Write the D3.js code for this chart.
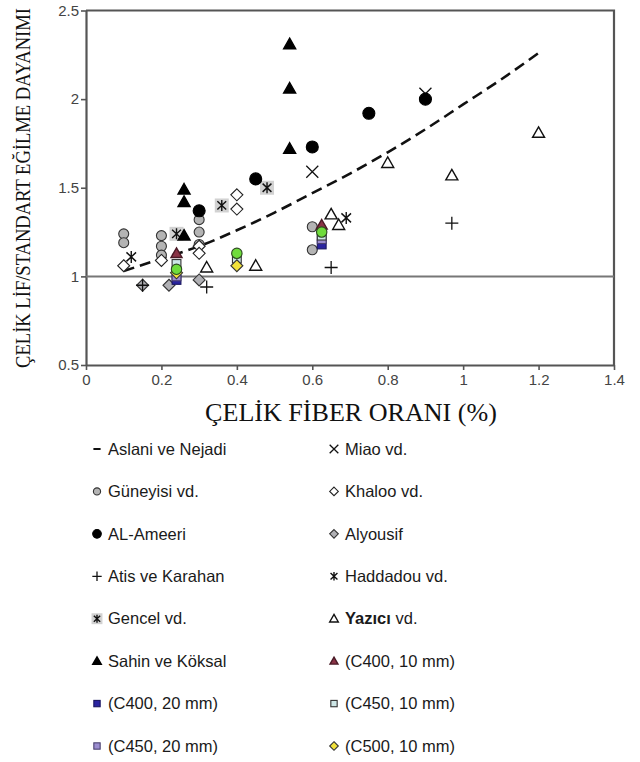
<!DOCTYPE html>
<html>
<head>
<meta charset="utf-8">
<script src="https://cdn.jsdelivr.net/npm/d3@7"></script>
<style>
  html, body { margin: 0; padding: 0; background: #fff; }
  svg { display: block; }
</style>
</head>
<body>
<svg id="chart" width="640" height="762"></svg>
<script>
// Axis ticks
const xTicks = [0, 0.2, 0.4, 0.6, 0.8, 1, 1.2, 1.4];
const yTicks = [0.5, 1, 1.5, 2, 2.5];

// Trend curve (Aslani ve Nejadi)
const aslaniX = [0.1, 0.2, 0.3, 0.4, 0.5, 0.6, 0.7, 0.8, 0.9, 1.0, 1.1, 1.2];
const aslaniY = [1.03, 1.10, 1.17, 1.26, 1.36, 1.47, 1.58, 1.70, 1.83, 1.97, 2.11, 2.26];

// Test results [fiber ratio %, relative flexural strength]
const guneyisi = [[0.1, 1.24], [0.1, 1.19], [0.2, 1.23], [0.2, 1.17], [0.2, 1.12], [0.3, 1.32], [0.3, 1.25], [0.3, 1.18], [0.6, 1.28], [0.6, 1.15]];
const alAmeeri = [[0.3, 1.37], [0.45, 1.55], [0.6, 1.73], [0.75, 1.92], [0.9, 2.0]];
const atis = [[0.15, 0.95], [0.32, 0.94], [0.65, 1.05], [0.97, 1.3]];
const gencel = [[0.24, 1.24], [0.36, 1.4], [0.48, 1.5]];
const sahin = [[0.26, 1.49], [0.26, 1.42], [0.26, 1.23], [0.54, 2.31], [0.54, 2.06], [0.54, 1.72]];
const miao = [[0.6, 1.59], [0.9, 2.03]];
const khaloo = [[0.1, 1.06], [0.2, 1.09], [0.3, 1.17], [0.3, 1.13], [0.4, 1.46], [0.4, 1.38]];
const alyousif = [[0.15, 0.95], [0.22, 0.95], [0.3, 0.98]];
const haddadou = [[0.12, 1.11], [0.69, 1.33]];
const yazici = [[0.32, 1.05], [0.45, 1.06], [0.65, 1.35], [0.67, 1.29], [0.8, 1.64], [0.97, 1.57], [1.2, 1.81]];
const c400_10 = [[0.24, 1.13], [0.625, 1.29]];
const c400_20 = [[0.24, 0.98], [0.625, 1.18]];
const c450_10 = [[0.24, 1.07], [0.4, 1.10], [0.625, 1.23]];
const c450_20 = [[0.24, 1.0], [0.625, 1.21]];
const c500_10 = [[0.24, 1.02], [0.4, 1.06]];
const greenMix = [[0.24, 1.04], [0.4, 1.13], [0.625, 1.25]];

const legendLeft = ["Aslani ve Nejadi", "Güneyisi vd.", "AL-Ameeri", "Atis ve Karahan", "Gencel vd.", "Sahin ve Köksal", "(C400, 20 mm)", "(C450, 20 mm)"];
const legendRight = ["Miao vd.", "Khaloo vd.", "Alyousif", "Haddadou vd.", "Yazıcı vd.", "(C400, 10 mm)", "(C450, 10 mm)", "(C500, 10 mm)"];

// Marker styles
const styles = {
  aslani:   { kind: "dash" },
  guneyisi: { kind: "circle", fill: "#b4b4b4", stroke: "#333", r: 5 },
  alAmeeri: { kind: "circle", fill: "#000", stroke: "#000", r: 6 },
  atis:     { kind: "plus", stroke: "#111", s: 6.5 },
  gencel:   { kind: "gencel", stroke: "#111", s: 5.5 },
  sahin:    { kind: "triangle", fill: "#000", stroke: "#000", s: 6 },
  miao:     { kind: "times", stroke: "#111", s: 6 },
  khaloo:   { kind: "diamond", fill: "#fff", stroke: "#222", s: 4.8 },
  alyousif: { kind: "diamond", fill: "#b0b0b4", stroke: "#333", s: 4.8 },
  haddadou: { kind: "asterisk", stroke: "#111", s: 6 },
  yazici:   { kind: "triangle", fill: "#fff", stroke: "#111", s: 6 },
  c400_10:  { kind: "triangle", fill: "#8a3346", stroke: "#4a1a26", s: 5.5 },
  c400_20:  { kind: "square", fill: "#2a24a0", stroke: "#1a1660", s: 4.4 },
  c450_10:  { kind: "square", fill: "#cde6e6", stroke: "#333", s: 4.4 },
  c450_20:  { kind: "square", fill: "#9c8ed0", stroke: "#4a4070", s: 4.4 },
  c500_10:  { kind: "diamond", fill: "#f2e23a", stroke: "#333", s: 4.8 },
  greenMix: { kind: "circle", fill: "#6fdc3c", stroke: "#2c4a20", r: 5.2 }
};

const svg = d3.select("#chart");
const m = { left: 86, right: 614, top: 10.5, bottom: 365 };

const x = d3.scaleLinear().domain([0, 1.4]).range([m.left, m.right]);
const y = d3.scaleLinear().domain([0.5, 2.5]).range([m.bottom, m.top]);

const axisColor = "#555";
const font = "'Liberation Sans', Arial, sans-serif";
const serif = "'Liberation Serif', 'Times New Roman', serif";

// Axes
const gx = svg.append("g").attr("transform", `translate(0,${m.bottom})`)
  .call(d3.axisBottom(x).tickValues(xTicks).tickSize(5).tickSizeOuter(0).tickFormat(d3.format("")));
const gy = svg.append("g").attr("transform", `translate(${m.left},0)`)
  .call(d3.axisLeft(y).tickValues(yTicks).tickSize(5).tickSizeOuter(0).tickFormat(d3.format("")));
[gx, gy].forEach(g => {
  g.select(".domain").attr("stroke", axisColor).attr("stroke-width", 2.2);
  g.selectAll(".tick line").attr("stroke", axisColor).attr("stroke-width", 1.6);
  g.selectAll(".tick text").attr("fill", "#444").style("font-family", font).style("font-size", "15px");
});
gx.selectAll(".tick text").attr("dy", "0.85em").attr("y", 7);
gy.selectAll(".tick text").attr("x", -7);

// Frame (top and right)
svg.append("path")
  .attr("d", `M${m.left},${m.top}H${m.right}V${m.bottom}`)
  .attr("fill", "none").attr("stroke", axisColor).attr("stroke-width", 2.2);

// Reference line at 1
svg.append("line")
  .attr("x1", x(0)).attr("x2", x(1.4)).attr("y1", y(1)).attr("y2", y(1))
  .attr("stroke", "#777").attr("stroke-width", 2);

// Axis titles (condensed to a target length with a horizontal scale)
function fitTitle(txt, size, target, place) {
  const t = svg.append("text").attr("text-anchor", "middle")
    .style("font-family", serif).style("font-size", size + "px").attr("fill", "#111")
    .text(txt);
  const len = t.node().getComputedTextLength();
  t.attr("transform", `${place} scale(${target / len},1)`);
}
fitTitle("ÇELİK FİBER ORANI (%)", 25, 292, "translate(351,421)");
fitTitle("ÇELİK LİF/STANDART EĞİLME DAYANIMI", 21, 360, "translate(30,188) rotate(-90)");

// Trend curve
const line = d3.line().x(d => x(d[0])).y(d => y(d[1])).curve(d3.curveMonotoneX);
svg.append("path")
  .datum(aslaniX.map((v, i) => [v, aslaniY[i]]))
  .attr("d", line)
  .attr("fill", "none").attr("stroke", "#111").attr("stroke-width", 2.6)
  .attr("stroke-dasharray", "11,6");

// Marker painter
function drawMarker(g, st, k) {
  k = k || 1;
  switch (st.kind) {
    case "circle":
      g.append("circle").attr("r", st.r * k).attr("fill", st.fill).attr("stroke", st.stroke).attr("stroke-width", 1.1);
      break;
    case "square": {
      const s = st.s * k;
      g.append("rect").attr("x", -s).attr("y", -s).attr("width", 2 * s).attr("height", 2 * s)
        .attr("fill", st.fill).attr("stroke", st.stroke).attr("stroke-width", 1.1);
      break;
    }
    case "diamond": {
      const s = st.s * k * 1.25;
      g.append("path").attr("d", `M0,${-s}L${s},0L0,${s}L${-s},0Z`)
        .attr("fill", st.fill).attr("stroke", st.stroke).attr("stroke-width", 1.1);
      break;
    }
    case "triangle": {
      const s = st.s * k;
      g.append("path").attr("d", `M0,${-s}L${s},${s * 0.75}L${-s},${s * 0.75}Z`)
        .attr("fill", st.fill).attr("stroke", st.stroke).attr("stroke-width", 1.4).attr("stroke-linejoin", "miter");
      break;
    }
    case "plus": {
      const s = st.s * k;
      g.append("path").attr("d", `M${-s},0H${s}M0,${-s}V${s}`).attr("stroke", st.stroke).attr("stroke-width", 1.3);
      break;
    }
    case "times": {
      const s = st.s * k;
      g.append("path").attr("d", `M${-s},${-s}L${s},${s}M${s},${-s}L${-s},${s}`).attr("stroke", st.stroke).attr("stroke-width", 1.3);
      break;
    }
    case "asterisk":
    case "gencel": {
      const s = st.s * k;
      if (st.kind === "gencel") {
        g.append("rect").attr("x", -s - 1.5).attr("y", -s - 1.5).attr("width", 2 * s + 3).attr("height", 2 * s + 3)
          .attr("fill", "#d2d2d2");
      }
      g.append("path").attr("d", `M0,${-s}V${s}M${-s * 0.8},${-s * 0.75}L${s * 0.8},${s * 0.75}M${s * 0.8},${-s * 0.75}L${-s * 0.8},${s * 0.75}`)
        .attr("stroke", st.stroke).attr("stroke-width", 1.4);
      break;
    }
    case "dash":
      g.append("line").attr("x1", -5 * k).attr("x2", 5 * k).attr("stroke", "#111").attr("stroke-width", 2);
      break;
  }
}

// Scatter series, drawn in stacking order
const seriesList = [
  [guneyisi, styles.guneyisi], [khaloo, styles.khaloo], [alyousif, styles.alyousif],
  [atis, styles.atis], [haddadou, styles.haddadou], [miao, styles.miao],
  [gencel, styles.gencel], [alAmeeri, styles.alAmeeri], [sahin, styles.sahin], [yazici, styles.yazici],
  [c400_20, styles.c400_20], [c450_20, styles.c450_20], [c450_10, styles.c450_10],
  [c500_10, styles.c500_10], [c400_10, styles.c400_10], [greenMix, styles.greenMix]
];
seriesList.forEach(([data, st]) => {
  svg.append("g").selectAll("g").data(data).join("g")
    .attr("transform", d => `translate(${x(d[0])},${y(d[1])})`)
    .each(function () { drawMarker(d3.select(this), st); });
});

// Legend
const leftStyles = [styles.aslani, styles.guneyisi, styles.alAmeeri, styles.atis, styles.gencel, styles.sahin, styles.c400_20, styles.c450_20];
const rightStyles = [styles.miao, styles.khaloo, styles.alyousif, styles.haddadou, styles.yazici, styles.c400_10, styles.c450_10, styles.c500_10];
const rowY = d3.scaleLinear().domain([0, 7]).range([449, 746]);

function legendColumn(labels, sts, mx, tx) {
  labels.forEach((lab, i) => {
    const g = svg.append("g").attr("transform", `translate(${mx},${rowY(i)})`);
    drawMarker(g, sts[i], 0.72);
    const t = svg.append("text").attr("x", tx).attr("y", rowY(i)).attr("dy", "0.35em")
      .style("font-family", font).style("font-size", "16.5px").attr("fill", "#1a1a1a");
    if (lab.startsWith("Yazıcı")) {
      t.append("tspan").style("font-weight", "bold").text("Yazıcı");
      t.append("tspan").text(lab.slice(6));
    } else {
      t.text(lab);
    }
  });
}
legendColumn(legendLeft, leftStyles, 97, 108);
legendColumn(legendRight, rightStyles, 334, 345);
</script>
</body>
</html>
